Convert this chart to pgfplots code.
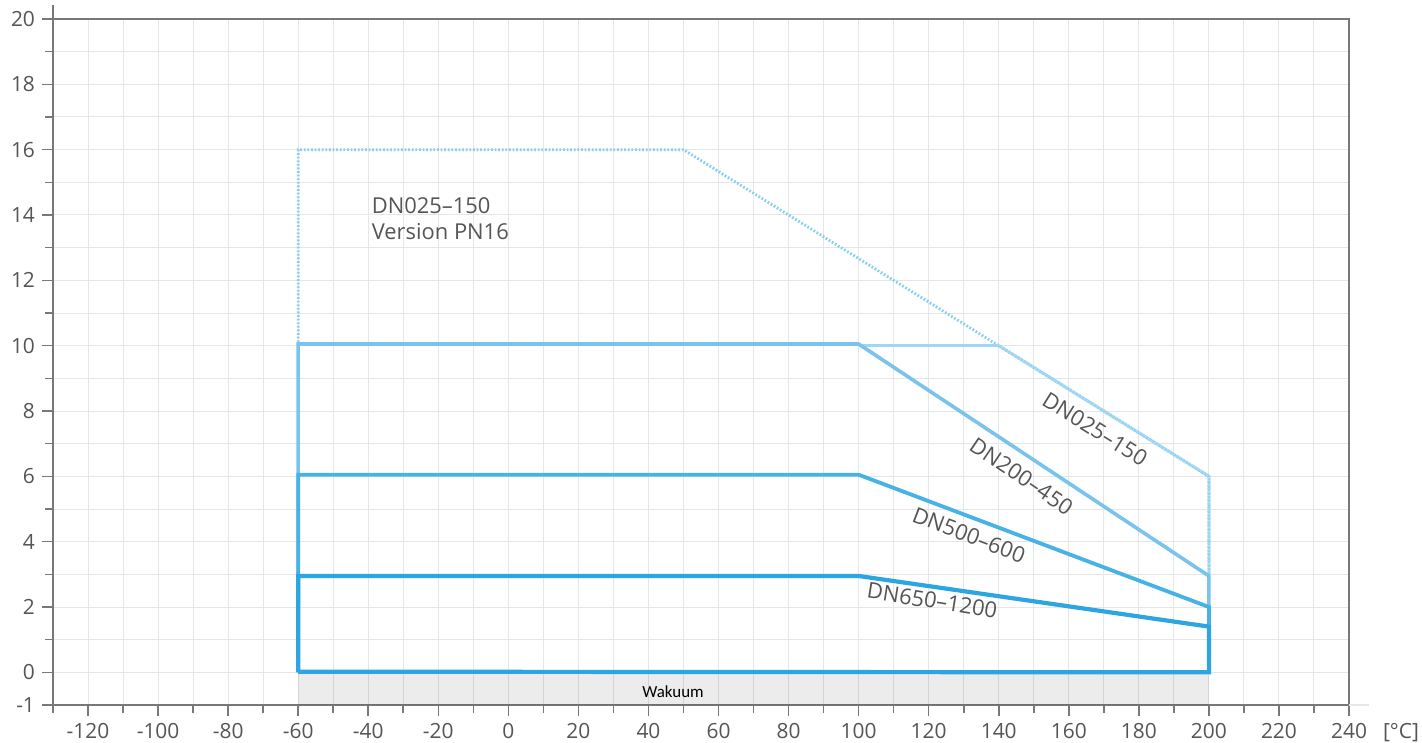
\documentclass[border=0pt]{standalone}
\usepackage{pgfplots}
\pgfplotsset{compat=1.18}
\usepackage{fontspec}
\setmainfont{Open Sans}
\newfontfamily\wakfont{Carlito}
\definecolor{gridc}{RGB}{230,230,230}
\definecolor{axisc}{RGB}{120,120,120}
\definecolor{labc}{RGB}{85,85,85}
\definecolor{cA}{RGB}{44,165,225}
\definecolor{cB}{RGB}{70,178,230}
\definecolor{cC}{RGB}{120,196,236}
\definecolor{cD}{RGB}{160,214,243}
\definecolor{cE}{RGB}{140,205,240}
\begin{document}
\begin{tikzpicture}
\begin{axis}[
 name=ax,
 scale only axis, width=648bp, height=343bp,
 xmin=-130, xmax=240, ymin=-1, ymax=20,
 xtick={-120,-100,...,240}, minor xtick={-130,-110,...,230},
 ytick={-1,0,2,4,...,20}, minor ytick={1,3,...,19},
 grid=both,
 major grid style={color=gridc, line width=0.5bp},
 minor grid style={color=gridc, line width=0.5bp},
 tick align=outside, major tick length=5.5bp, minor tick length=4bp,
 xtick pos=lower, ytick pos=left,
 axis line style={color=axisc, line width=0.8bp},
 tick style={color=axisc, line width=0.8bp},
 tick label style={font=\fontsize{10.5}{12}\selectfont, text=labc},
 /pgf/number format/assume math mode=true,
 clip=false,
]
% vacuum area
\addplot[draw=none, fill=black, fill opacity=0.075] coordinates {(-60,-1) (200,-1) (200,0) (-60,0) (-60,-1)};
% PN16 dotted
\addplot[cE, line width=1.4bp, dash pattern=on 0.9bp off 0.9bp] coordinates {(-60,10) (-60,16) (50,16) (140,10) (200,6) (200,3)};
% DN025-150
\addplot[cD, line width=1.6bp] coordinates {(100,10) (140,10)};
\addplot[cD, line width=1.6bp, dash pattern=on 1.2bp off 0.6bp] coordinates {(140,10) (200,6) (200,3)};
% DN200-450
\addplot[cC, line width=1.8bp] coordinates {(-60,3) (-60,10.05) (100,10.05) (200,2.95) (200,2)};
% DN500-600
\addplot[cB, line width=1.9bp] coordinates {(-60,2) (-60,6.05) (100,6.05) (200,2.0) (200,1.4)};
% DN650-1200
\addplot[cA, line width=2.1bp] coordinates {(-60,0) (-60,2.95) (100,2.95) (200,1.4) (200,0) (-60,0.02) (-60,0)};
% labels
\node[text=labc, font=\fontsize{11}{13}\selectfont, align=left, anchor=west] at (axis cs:-41,13.9) {DN025–150\\Version PN16};
\node[text=labc, font=\fontsize{11}{13}\selectfont, rotate=-32] at (axis cs:167.5,7.45) {DN025–150};
\node[text=labc, font=\fontsize{11}{13}\selectfont, rotate=-34] at (axis cs:146.5,6.0) {DN200–450};
\node[text=labc, font=\fontsize{11}{13}\selectfont, rotate=-21] at (axis cs:131.5,4.2) {DN500–600};
\node[text=labc, font=\fontsize{11}{13}\selectfont, rotate=-9] at (axis cs:121,2.2) {DN650–1200};
\node[text=black, font=\wakfont\fontsize{8.5}{10}\selectfont] at (axis cs:47,-0.6) {Wakuum};
\node[text=labc, font=\fontsize{10.5}{12}\selectfont, anchor=north] at ([xshift=26bp,yshift=-5.5bp]rel axis cs:1,0) {[°C]};
\draw[color=gridc, line width=0.8bp] (rel axis cs:1,0) -- ([xshift=10bp]rel axis cs:1,0);
\draw[color=axisc, line width=0.8bp] (rel axis cs:0,1) -- ([yshift=7bp]rel axis cs:0,1);
\end{axis}
\pgfresetboundingbox
\path[use as bounding box] ([xshift=-26.5bp,yshift=-18.5bp]ax.south west) rectangle ([xshift=36.5bp,yshift=9.5bp]ax.north east);
\end{tikzpicture}
\end{document}
